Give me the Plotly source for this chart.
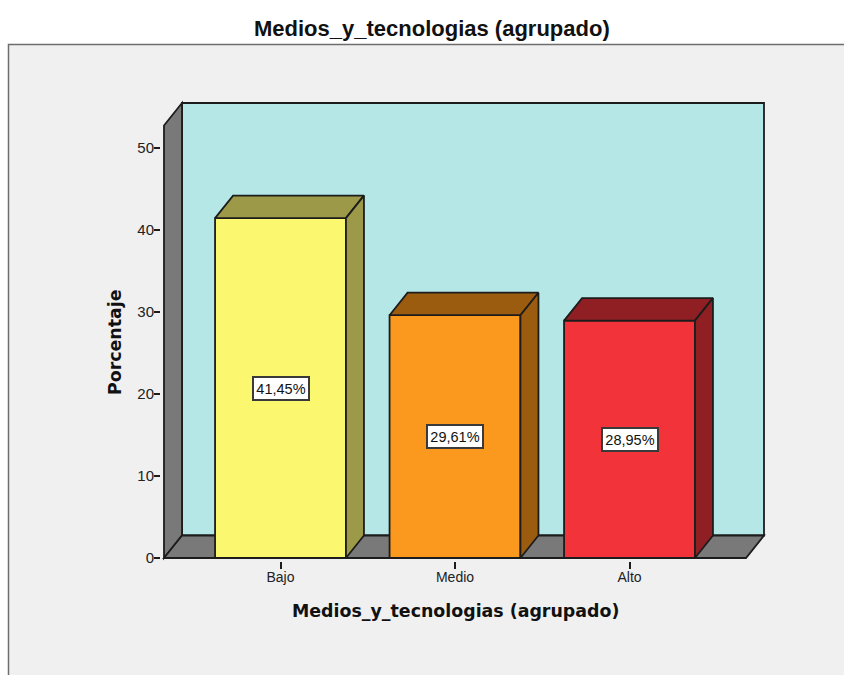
"""SPSS style pseudo-3D bar chart: Medios_y_tecnologias (agrupado)."""

import plotly.graph_objects as go

# Data
categories = ["Bajo", "Medio", "Alto"]
percentages = [41.45, 29.61, 28.95]
percent_labels = ["41,45%", "29,61%", "28,95%"]
y_ticks = [0, 10, 20, 30, 40, 50]

front_colors = ["#FBF86F", "#FB981E", "#F2333A"]
shade_colors = ["#9C9A48", "#9C5C10", "#8F1F23"]

WALL = "#B5E7E7"
GREY = "#797979"
EDGE = "#1c1c1c"
PANEL = "#F0F0F0"
FONT = "Liberation Sans"
LINE_W = 1.8

# Canvas and plot box, in pixels (box is a little larger than the walls so strokes are not clipped)
WIDTH, HEIGHT = 844, 675
LEFT, RIGHT, TOP, BOTTOM = 161, 767, 100, 561

# Axis scales: pixels per unit, and where category 0 / value 0 fall
PX_PER_CAT = 174.5
PX_PER_PCT = 8.2
CAT0_PX = 280.5
ZERO_PX = 558

x_range = [(LEFT - CAT0_PX) / PX_PER_CAT, (RIGHT - CAT0_PX) / PX_PER_CAT]
y_range = [(ZERO_PX - BOTTOM) / PX_PER_PCT, (ZERO_PX - TOP) / PX_PER_PCT]

# Wall extents in axis units
x0 = (164 - CAT0_PX) / PX_PER_CAT
x1 = (764 - CAT0_PX) / PX_PER_CAT
y1 = (ZERO_PX - 103) / PX_PER_PCT

# 3D depth offset in axis units
DX = 18 / PX_PER_CAT
DY = 22.5 / PX_PER_PCT
BAR_WIDTH = 0.75


def poly_path(points):
    return "M " + " L ".join(f"{x},{y}" for x, y in points) + " Z"


def paper_x(px):
    return (px - LEFT) / (RIGHT - LEFT)


def paper_y(py):
    return (BOTTOM - py) / (BOTTOM - TOP)


shapes = [
    # outer panel
    dict(type="rect", xref="paper", yref="paper", layer="below",
         x0=paper_x(8.5), x1=paper_x(850), y0=paper_y(680), y1=paper_y(44.5),
         fillcolor=PANEL, line=dict(color="#6e6e6e", width=1.5)),
    # back wall
    dict(type="path", layer="below", fillcolor=WALL, line=dict(color=EDGE, width=LINE_W),
         path=poly_path([(x0 + DX, DY), (x0 + DX, y1), (x1, y1), (x1, DY)])),
    # left wall
    dict(type="path", layer="below", fillcolor=GREY, line=dict(color=EDGE, width=LINE_W),
         path=poly_path([(x0, 0), (x0, y1 - DY), (x0 + DX, y1), (x0 + DX, DY)])),
    # floor
    dict(type="path", layer="below", fillcolor=GREY, line=dict(color=EDGE, width=LINE_W),
         path=poly_path([(x0, 0), (x0 + DX, DY), (x1, DY), (x1 - DX, 0)])),
]

fig = go.Figure()

fig.add_trace(go.Bar(
    x=list(range(len(categories))),
    y=percentages,
    width=BAR_WIDTH,
    marker=dict(color=front_colors, line=dict(color=EDGE, width=LINE_W)),
    hovertemplate="%{y:.2f}%<extra></extra>",
    showlegend=False,
))

# Top and side faces of each bar
for idx, value in enumerate(percentages):
    left = idx - BAR_WIDTH / 2
    right = idx + BAR_WIDTH / 2
    faces = [
        ([left, left + DX, right + DX, right, left], [value, value + DY, value + DY, value, value]),
        ([right, right + DX, right + DX, right, right], [value, value + DY, DY, 0, value]),
    ]
    for xs, ys in faces:
        fig.add_trace(go.Scatter(
            x=xs, y=ys, mode="lines", fill="toself",
            fillcolor=shade_colors[idx],
            line=dict(color=EDGE, width=LINE_W),
            hoverinfo="skip", showlegend=False,
        ))

for idx, value in enumerate(percentages):
    fig.add_annotation(
        x=idx, y=value / 2, text=percent_labels[idx], showarrow=False,
        width=54, height=21, xanchor="center", yanchor="middle",
        font=dict(family=FONT, size=14.5, color="#111111"),
        bgcolor="white", bordercolor="#3a3a3a", borderwidth=2, borderpad=0,
    )

fig.add_annotation(
    text="<b>Medios_y_tecnologias (agrupado)</b>", xref="paper", yref="paper",
    x=paper_x(432), y=paper_y(28), xanchor="center", yanchor="middle", showarrow=False,
    font=dict(family=FONT, size=22, color="#111111"),
)
fig.add_annotation(
    text="<b>Medios_y_tecnologias (agrupado)</b>", xref="paper", yref="paper",
    x=paper_x(455), y=paper_y(611), xanchor="center", yanchor="middle", showarrow=False,
    font=dict(family="DejaVu Sans", size=17.4, color="#111111"),
)
fig.add_annotation(
    text="<b>Porcentaje</b>", xref="paper", yref="paper",
    x=paper_x(115), y=paper_y(342), xanchor="center", yanchor="middle", showarrow=False,
    textangle=-90,
    font=dict(family="DejaVu Sans", size=17.4, color="#111111"),
)

fig.update_layout(
    width=WIDTH,
    height=HEIGHT,
    autosize=False,
    margin=dict(l=LEFT, r=WIDTH - RIGHT, t=TOP, b=HEIGHT - BOTTOM, pad=0),
    paper_bgcolor="white",
    plot_bgcolor="rgba(0,0,0,0)",
    shapes=shapes,
    showlegend=False,
    xaxis=dict(
        range=x_range, showgrid=False, zeroline=False, showline=False,
        tickmode="array", tickvals=list(range(len(categories))), ticktext=categories,
        ticks="outside", ticklen=7, tickwidth=LINE_W, tickcolor=EDGE, ticklabelstandoff=-4,
        tickfont=dict(family=FONT, size=14, color="#222222"),
    ),
    yaxis=dict(
        range=y_range, showgrid=False, zeroline=False, showline=False,
        tickmode="array", tickvals=y_ticks,
        ticks="outside", ticklen=6, tickwidth=LINE_W, tickcolor=EDGE, ticklabelstandoff=-3,
        tickfont=dict(family=FONT, size=15, color="#222222"),
    ),
)

fig.write_html("out.html", config={"displayModeBar": False},
               post_script="document.body.style.margin='0';")
